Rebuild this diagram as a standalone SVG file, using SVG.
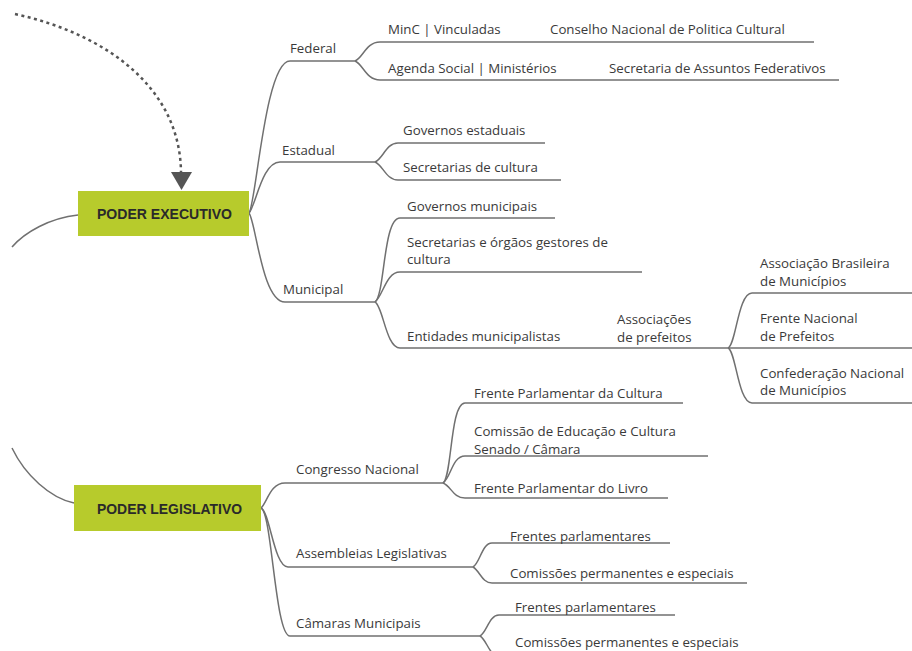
<svg xmlns="http://www.w3.org/2000/svg" width="912" height="651" viewBox="0 0 912 651">
<style>
.ln{fill:none;stroke:#707070;stroke-width:1.5}
.t{font-family:"Open Sans","Liberation Sans",sans-serif;font-size:13.3px;fill:#3a3a3a}
.box{fill:#b7cb2c}
.bt{font-family:"Liberation Sans",Arial,sans-serif;font-size:14.5px;font-weight:bold;fill:#2a2a2a}
.dash{fill:none;stroke:#555;stroke-width:2.5;stroke-dasharray:3 3.5}
</style>
<rect width="912" height="651" fill="#fff"/>
<g id="connectors">
<path class="dash" d="M15,14 C110,35 180,90 181,172"/>
<polygon points="171,172 192,172 181.5,190" fill="#555"/>
<path class="ln" d="M78,215 C50,218 25,232 12,247"/>
<path class="ln" d="M74,503 C50,498 25,475 12,448"/>
<path class="ln" d="M249,213 C256,205 265,61 290,61 L355,61"/>
<path class="ln" d="M249,213 C256,205 262,162 280,162 L375,162"/>
<path class="ln" d="M249,213 C256,222 262,302 285,302 L375,302"/>
<path class="ln" d="M355,61 C363,58 366,42 380,42 L814,42"/>
<path class="ln" d="M355,61 C363,64 366,80 380,80 L839,80"/>
<path class="ln" d="M375,162 C383,159 386,143 398,143 L545,143"/>
<path class="ln" d="M375,162 C383,165 386,180 398,180 L561,180"/>
<path class="ln" d="M375,302 C385,295 383,218 400,218 L555,218"/>
<path class="ln" d="M375,302 C383,296 386,272 400,272 L642,272"/>
<path class="ln" d="M375,302 C383,306 386,348 400,348 L728,348"/>
<path class="ln" d="M728,348 C736,345 738,293 752,293 L912,293"/>
<path class="ln" d="M728,348 L912,348"/>
<path class="ln" d="M728,348 C736,351 738,403 752,403 L912,403"/>
<path class="ln" d="M261,508 C267,503 270,483 285,483 L443,483"/>
<path class="ln" d="M261,508 C270,512 274,567 288,567 L473,567"/>
<path class="ln" d="M261,508 C272,512 275,636 290,636 L480,636"/>
<path class="ln" d="M443,483 C452,478 450,403 465,403 L683,403"/>
<path class="ln" d="M443,483 C451,478 452,456 465,456 L708,456"/>
<path class="ln" d="M443,483 C451,486 453,498 465,498 L668,498"/>
<path class="ln" d="M473,567 C480,563 482,543 492,543 L670,543"/>
<path class="ln" d="M473,567 C480,571 482,583 492,583 L747,583"/>
<path class="ln" d="M480,636 C487,632 489,615 499,615 L675,615"/>
<path class="ln" d="M480,636 C487,640 489,656 499,656 L760,656"/>
</g>
<g id="poder-executivo">
<rect class="box" x="78" y="191" width="171" height="45"/>
<text class="bt" x="164.5" y="218.5" text-anchor="middle" textLength="135" lengthAdjust="spacingAndGlyphs">PODER EXECUTIVO</text>
</g>
<g id="poder-legislativo">
<rect class="box" x="74" y="485" width="187" height="46"/>
<text class="bt" x="169.5" y="513.5" text-anchor="middle" textLength="145" lengthAdjust="spacingAndGlyphs">PODER LEGISLATIVO</text>
</g>
<g id="federal"><text class="t" x="290" y="53">Federal</text></g>
<g id="minc"><text class="t" x="388" y="34">MinC | Vinculadas</text></g>
<g id="cnpc"><text class="t" x="550" y="34">Conselho Nacional de Politica Cultural</text></g>
<g id="agenda"><text class="t" x="388" y="73">Agenda Social | Ministérios</text></g>
<g id="saf"><text class="t" x="609" y="73">Secretaria de Assuntos Federativos</text></g>
<g id="estadual"><text class="t" x="282" y="155">Estadual</text></g>
<g id="gov-est"><text class="t" x="403" y="135">Governos estaduais</text></g>
<g id="sec-cult"><text class="t" x="403" y="172">Secretarias de cultura</text></g>
<g id="municipal"><text class="t" x="283" y="294">Municipal</text></g>
<g id="gov-mun"><text class="t" x="407" y="211">Governos municipais</text></g>
<g id="sec-org"><text class="t" x="407" y="247">Secretarias e órgãos gestores de<tspan x="407" dy="17">cultura</tspan></text></g>
<g id="entidades"><text class="t" x="407" y="341">Entidades municipalistas</text></g>
<g id="assoc-pref"><text class="t" x="617" y="324">Associações<tspan x="617" dy="17.5">de prefeitos</tspan></text></g>
<g id="abm"><text class="t" x="760" y="268">Associação Brasileira<tspan x="760" dy="18">de Municípios</tspan></text></g>
<g id="fnp"><text class="t" x="760" y="323">Frente Nacional<tspan x="760" dy="18">de Prefeitos</tspan></text></g>
<g id="cnm"><text class="t" x="760" y="378">Confederação Nacional<tspan x="760" dy="17">de Municípios</tspan></text></g>
<g id="congresso"><text class="t" x="296" y="474">Congresso Nacional</text></g>
<g id="fpc"><text class="t" x="474" y="398">Frente Parlamentar da Cultura</text></g>
<g id="cec"><text class="t" x="474" y="436">Comissão de Educação e Cultura<tspan x="474" dy="17.5">Senado / Câmara</tspan></text></g>
<g id="fpl"><text class="t" x="474" y="493">Frente Parlamentar do Livro</text></g>
<g id="assembleias"><text class="t" x="296" y="558">Assembleias Legislativas</text></g>
<g id="al-fp"><text class="t" x="510" y="541">Frentes parlamentares</text></g>
<g id="al-cpe"><text class="t" x="510" y="578">Comissões permanentes e especiais</text></g>
<g id="camaras"><text class="t" x="296" y="628">Câmaras Municipais</text></g>
<g id="cm-fp"><text class="t" x="515" y="612">Frentes parlamentares</text></g>
<g id="cm-cpe"><text class="t" x="515" y="647">Comissões permanentes e especiais</text></g>
</svg>
